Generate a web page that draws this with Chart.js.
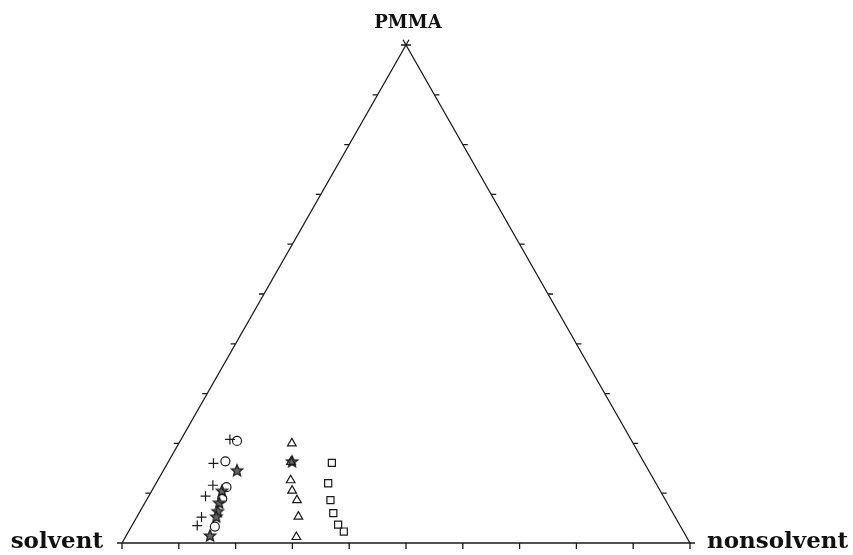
<!DOCTYPE html>
<html>
<head>
<meta charset="utf-8">
<script src="https://cdn.jsdelivr.net/npm/chart.js@4"></script>
<style>
  html, body { margin: 0; padding: 0; background: #fff; }
  #wrap { width: 853px; height: 555px; }
</style>
</head>
<body>
<div id="wrap"><canvas id="ternary"></canvas></div>
<script>
// compositions in %, nonsolvent and PMMA (solvent is the rest)
const plusNonsolvent = [8.6, 8.1, 10.2, 10.0, 11.4, 11.5];
const plusPMMA       = [20.8, 16.0, 11.6, 9.4, 5.2, 3.5];

const circleNonsolvent = [10.0, 10.0, 12.8, 13.2, 14.7];
const circlePMMA       = [20.5, 16.4, 11.2, 8.9, 3.3];

const starNonsolvent = [13.0, 12.4, 13.1, 13.7, 14.0, 14.8, 21.8];
const starPMMA       = [14.5, 10.4, 8.0, 6.3, 5.2, 1.4, 16.3];

const triNonsolvent = [19.9, 21.6, 23.4, 24.7, 26.5, 28.4, 30.1];
const triPMMA       = [20.0, 16.3, 12.6, 10.5, 8.6, 5.3, 1.2];

const squareNonsolvent = [28.9, 30.3, 32.4, 34.2, 36.2, 37.9];
const squarePMMA       = [16.1, 12.0, 8.6, 6.0, 3.7, 2.3];

const vertexLabels = ['solvent', 'nonsolvent', 'PMMA'];
const tickCount = 10;

const ink = '#1a1a1a';

// ternary -> cartesian (PMMA on top)
function toXY(n, p) {
    return { x: (n + p / 2) / 100, y: p / 100 };
}
function series(ns, ps) {
    return ns.map((n, i) => toXY(n, ps[i]));
}

// five point star marker
function makeStar(r) {
    const c = document.createElement('canvas');
    const s = Math.ceil(r * 2 + 4);
    c.width = s; c.height = s;
    const g = c.getContext('2d');
    g.translate(s / 2, s / 2);
    g.beginPath();
    for (let i = 0; i < 10; i++) {
        const rad = i % 2 === 0 ? r : r * 0.45;
        const a = -Math.PI / 2 + i * Math.PI / 5;
        g.lineTo(rad * Math.cos(a), rad * Math.sin(a));
    }
    g.closePath();
    g.fillStyle = '#666';
    g.fill();
    g.strokeStyle = ink;
    g.lineWidth = 1.3;
    g.stroke();
    return c;
}

const frame = {
    id: 'frame',
    afterDatasetsDraw(chart) {
        const ctx = chart.ctx;
        const xs = chart.scales.x, ys = chart.scales.y;
        const px = (x, y) => [xs.getPixelForValue(x), ys.getPixelForValue(y)];
        const len = 5;
        ctx.save();
        ctx.strokeStyle = ink;
        ctx.lineWidth = 1.3;
        ctx.beginPath();
        for (let k = 0; k <= tickCount; k++) {
            const f = k / tickCount;
            // bottom edge, ticks down
            let [a, b] = px(f, 0);
            ctx.moveTo(a, b); ctx.lineTo(a, b + len + 1);
            // left edge, ticks left
            [a, b] = px(f / 2, f);
            ctx.moveTo(a, b); ctx.lineTo(a - len, b);
            // right edge, ticks right
            [a, b] = px(1 - f / 2, f);
            ctx.moveTo(a, b); ctx.lineTo(a + len, b);
        }
        // crossing at the apex
        const [ax, ay] = px(0.5, 1);
        const [lx, ly] = px(0, 0);
        const [rx, ry] = px(1, 0);
        const ext = (x0, y0, x1, y1) => {
            const d = Math.hypot(x1 - x0, y1 - y0);
            ctx.moveTo(x1, y1);
            ctx.lineTo(x1 + (x1 - x0) / d * 6, y1 + (y1 - y0) / d * 6);
        };
        ext(lx, ly, ax, ay);
        ext(rx, ry, ax, ay);
        ctx.stroke();

        ctx.fillStyle = '#111';
        ctx.font = 'bold 23px "DejaVu Serif", serif';
        ctx.textBaseline = 'alphabetic';
        ctx.textAlign = 'right';
        ctx.fillText(vertexLabels[0], lx - 19, ly + 5);
        ctx.textAlign = 'left';
        ctx.fillText(vertexLabels[1], rx + 17, ry + 5);
        ctx.font = 'bold 18px "DejaVu Serif", serif';
        ctx.textAlign = 'center';
        ctx.fillText(vertexLabels[2], ax + 2, ay - 17);
        ctx.restore();
    }
};

const marker = (style, radius, extra) => Object.assign({
    pointStyle: style,
    pointRadius: radius,
    borderColor: ink,
    backgroundColor: 'rgba(0,0,0,0)',
    borderWidth: 1.2,
    showLine: false
}, extra || {});

new Chart(document.getElementById('ternary'), {
    type: 'scatter',
    data: {
        datasets: [
            {
                data: [toXY(0, 0), toXY(100, 0), toXY(0, 100), toXY(0, 0)],
                showLine: true,
                borderColor: ink,
                borderWidth: 1.3,
                pointRadius: 0,
                fill: false
            },
            Object.assign({ data: series(plusNonsolvent, plusPMMA) }, marker('cross', 5)),
            Object.assign({ data: series(circleNonsolvent, circlePMMA) }, marker('circle', 4.5)),
            Object.assign({ data: series(triNonsolvent, triPMMA) }, marker('triangle', 5)),
            Object.assign({ data: series(squareNonsolvent, squarePMMA) }, marker('rect', 5)),
            Object.assign({ data: series(starNonsolvent, starPMMA) }, marker(makeStar(6), 6))
        ]
    },
    options: {
        responsive: true,
        maintainAspectRatio: false,
        animation: false,
        clip: false,
        layout: { padding: { left: 122, right: 163, top: 45, bottom: 12 } },
        plugins: {
            legend: { display: false },
            tooltip: { enabled: false }
        },
        scales: {
            x: { type: 'linear', min: 0, max: 1, display: false },
            y: { type: 'linear', min: 0, max: 1, display: false }
        }
    },
    plugins: [frame]
});
</script>
</body>
</html>
